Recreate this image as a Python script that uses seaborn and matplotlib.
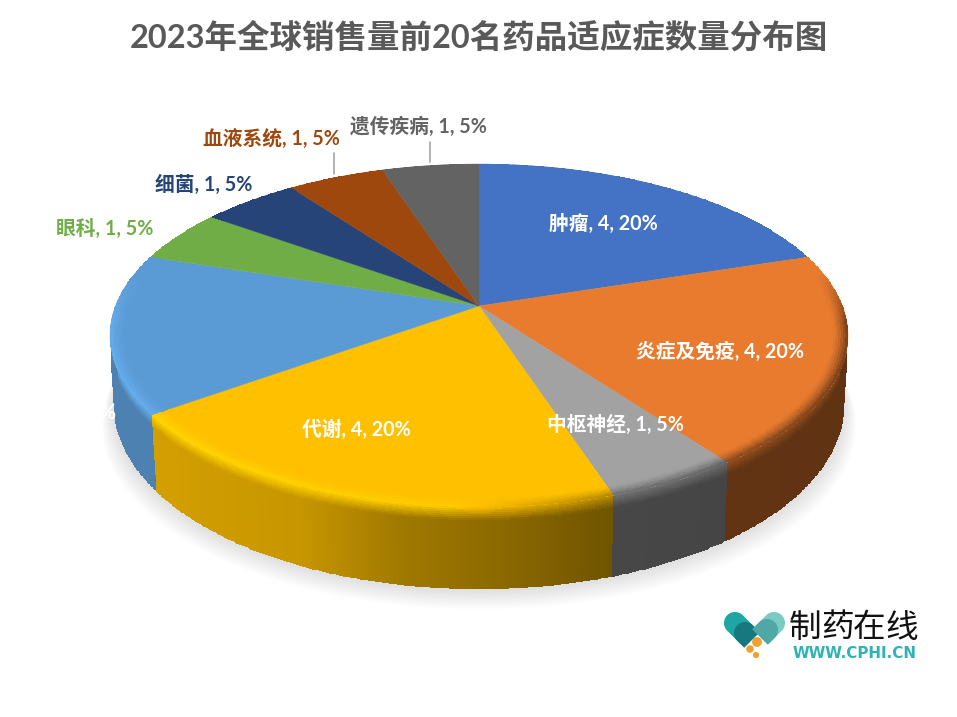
import numpy as np
import matplotlib
matplotlib.use('Agg')
import matplotlib.pyplot as plt
import seaborn as sns

# Data: values, the blue slice label is almost hidden in the source
categories = ['肿瘤', '炎症及免疫', '中枢神经', '代谢', '', '眼科', '细菌', '血液系统', '遗传疾病']
counts = [4, 4, 1, 4, 3, 1, 1, 1, 1]
percents = [20, 20, 5, 20, 15, 5, 5, 5, 5]
slice_colors = ['#4472C4', '#E97B2F', '#A2A2A2', '#FFC000', '#5B9BD5', '#70AD47', '#264478', '#9E480E', '#636363']
label_colors = ['white', 'white', 'white', 'white', 'white', '#70AD47', '#264478', '#9E480E', '#636363']
chart_title = '2023年全球销售量前20名药品适应症数量分布图'

# Label centres in pixels (the fifth is the white label running off the left side)
label_pos = [(603, 224), (720, 352), (615, 425), (356, 430), (86, 413), (105, 229), (204, 185), (271, 139), (418, 127)]

sns.set_theme(style='white')
plt.rcParams['font.family'] = ['Lato', 'Noto Sans CJK SC', 'DejaVu Sans']
palette = np.array(sns.color_palette(slice_colors))

# Perspective of the pie disc
CX, CY = 479, 306
RX, RY = 363.5, 166.4
K = 0.172
WALL = 68


def project(theta, r=1.0):
    u = r * np.sin(theta)
    v = r * np.cos(theta)
    den = 1 + K * v
    return CX + RX * u / den, CY - RY * v / den


def wall_bottom(theta):
    x, y = project(theta)
    return CX + (x - CX) * 0.988, y + WALL / (1 + K * np.cos(theta))


def rim_color(base, x, weight):
    f = np.interp(x, [150, 450, 610, 850], [1.1, 1.06, 0.72, 0.55])
    col = np.clip(base[None, :] * f[:, None], 0, 1)
    return base[None, :] * (1 - weight[:, None]) + col * weight[:, None]


fig = plt.figure(figsize=(9.57, 7.17), dpi=100)
ax = fig.add_axes([0, 0, 1, 1])
ax.set_xlim(0, 957)
ax.set_ylim(717, 0)
ax.axis('off')

fractions = np.array(counts) / np.sum(counts)
edges = np.concatenate([[0], np.cumsum(fractions)]) * 2 * np.pi

# soft shadow under the pie
t = np.radians(np.linspace(85, 275, 200))
bx, by = wall_bottom(t)
for g in np.linspace(24, 1, 16):
    ax.fill(CX + (bx - CX) * (1 + g / 700), by + g * 0.85,
            color='black', alpha=0.009, lw=0, zorder=1)

# side wall, front slices only
for i in range(len(counts)):
    t0, t1 = edges[i], edges[i + 1]
    t0 = max(t0, np.radians(92))
    t1 = min(t1, np.radians(268))
    if t1 <= t0:
        continue
    n = max(int(np.degrees(t1 - t0) * 2), 2)
    th = np.linspace(t0, t1, n + 1)
    s = np.concatenate([np.linspace(0, 0.16, 8), np.linspace(0.2, 1, 5)])
    xt, yt = project(th)
    xb, yb = wall_bottom(th)
    X = xt[None, :] + (xb - xt)[None, :] * s[:, None]
    Y = yt[None, :] + (yb - yt)[None, :] * s[:, None]
    xm = (xt[:-1] + xt[1:]) / 2
    shade = np.interp(xm, [150, 300, 400, 500, 610, 850], [0.83, 0.78, 0.63, 0.55, 0.44, 0.41])
    wall = palette[i][None, :] * shade[:, None]
    top = rim_color(palette[i], xm, np.ones_like(xm))
    sm = (s[:-1] + s[1:]) / 2
    mix = np.clip(sm / 0.16, 0, 1)
    mix = mix[:, None, None]
    C = top[None, :, :] * (1 - mix) + wall[None, :, :] * mix
    # darker lip along the lower edge
    C = C * (1 - 0.25 * np.clip((sm - 0.95) / 0.05, 0, 1))[:, None, None]
    ax.pcolormesh(X, Y, C, shading='flat', zorder=2)

# top face
for i in range(len(counts)):
    th = np.linspace(edges[i], edges[i + 1], 160)
    xs, ys = project(th)
    ax.fill(np.r_[CX, xs], np.r_[CY, ys], color=palette[i], lw=0.3, ec=palette[i], zorder=3)

# bevel along the front rim
for i in range(len(counts)):
    n = max(int(np.degrees(edges[i + 1] - edges[i]) * 2), 2)
    th = np.linspace(edges[i], edges[i + 1], n + 1)
    rr = np.linspace(0.955, 1.0, 8)
    X = np.array([project(th, r)[0] for r in rr])
    Y = np.array([project(th, r)[1] for r in rr])
    tm = (th[:-1] + th[1:]) / 2
    xm = project(tm)[0]
    weight = np.clip((0.2 - np.cos(tm)) / 0.3, 0, 1)
    rim = rim_color(palette[i], xm, weight)
    mix = np.linspace(0, 1, len(rr) - 1)[:, None, None] ** 1.5
    C = palette[i][None, None, :] * (1 - mix) + rim[None, :, :] * mix
    ax.pcolormesh(X, Y, C, shading='flat', zorder=4)

# data labels
for i in range(len(counts)):
    txt = f'{counts[i]}, {percents[i]}%'
    if categories[i]:
        txt = f'{categories[i]}, {txt}'
    ax.text(label_pos[i][0], label_pos[i][1], txt, color=label_colors[i], fontsize=14.2,
            fontweight='bold', ha='center', va='center', zorder=6)

# leader lines
ax.plot([334, 334], [153, 174], color='#A6A6A6', lw=1.2, zorder=5)
ax.plot([430, 430], [142, 162], color='#A6A6A6', lw=1.2, zorder=5)

ax.text(479, 37, chart_title, color='#595959', fontsize=23.4, fontweight='bold',
        ha='center', va='center', zorder=6)


# logo
def half_capsule(x0, y0, x1, y1, w, color, z):
    ang = np.arctan2(y1 - y0, x1 - x0)
    a = np.linspace(ang + np.pi / 2, ang + 3 * np.pi / 2, 30)
    xs = np.r_[x0 + w * np.cos(a), x1 + w * np.sin(ang), x1 - w * np.sin(ang)]
    ys = np.r_[y0 + w * np.sin(a), y1 - w * np.cos(ang), y1 + w * np.cos(ang)]
    ax.fill(xs, ys, color=color, lw=0, zorder=z)


half_capsule(735, 623, 748, 636, 11, '#1FA5A3', 5)
half_capsule(745, 633, 752, 640, 11, '#17797F', 5)
half_capsule(774, 623, 762, 635, 11, '#7CCAC4', 5)
half_capsule(767, 630, 760, 637, 11, '#4FA8A6', 5)
ax.scatter([757, 750, 756], [642, 649, 655], s=[50, 30, 20], color='#F0A030', lw=0, zorder=6)

for j, ch in enumerate('制药在线'):
    ax.text(805 + j * 32.2, 628, ch, color='#111111', fontsize=23.5, ha='center', va='center', zorder=6)
ax.text(854.5, 653, 'WWW.CPHI.CN', color='#2FB3B5', fontsize=10.9, fontweight='bold',
        family='DejaVu Sans', ha='center', va='center', zorder=6)

plt.savefig('out.png', dpi=100)
plt.close()
